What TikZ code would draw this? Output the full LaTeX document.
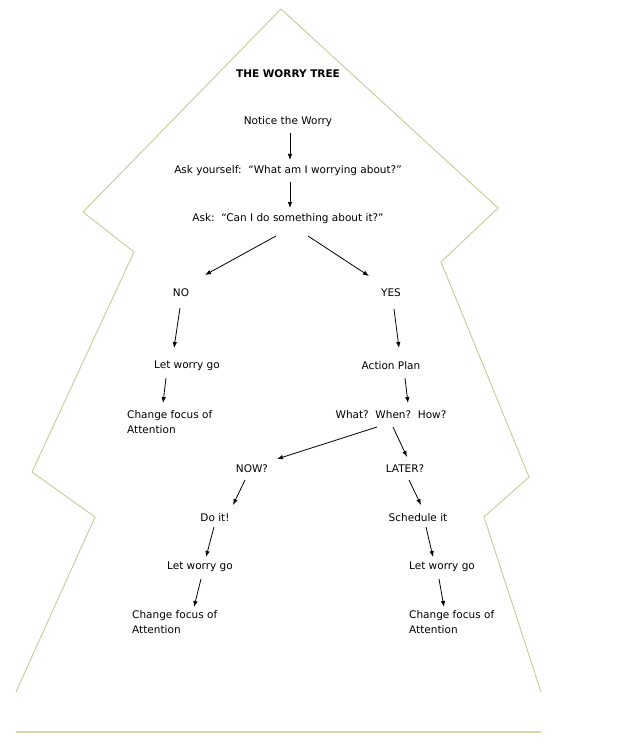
\documentclass[tikz,border=0pt]{standalone}
\usepackage{fontspec}
\setmainfont{DejaVu Sans}
\usetikzlibrary{calc,arrows.meta}

\definecolor{treeline}{RGB}{190,208,150}
\definecolor{footline}{RGB}{204,222,176}

\tikzset{
  txt/.style={inner sep=0pt,font=\fontsize{10.5}{15}\selectfont},
  lefttxt/.style={txt,anchor=west,align=left},
  arr/.style={line width=0.8pt,-{Latex[length=6pt,width=4.5pt]}}
}

\begin{document}
\begin{tikzpicture}[x=1pt,y=-1pt]
  \path[use as bounding box,fill=white] (0,0) rectangle (617,754);

  % tree outline
  \draw[treeline,line width=0.9pt] (16,692) -- (95,517) -- (32,472) -- (134,252) -- (83,212)
    -- (281,9) -- (498,208) -- (441,262) -- (529,477) -- (484,517) -- (541,692);
  \draw[footline,line width=2pt] (16,732) -- (541,732);

  \node[txt,font=\fontsize{10.5}{15}\selectfont\bfseries] (title) at (288,74) {THE WORRY TREE};

  \node[txt] (notice)  at (288,122) {Notice the Worry};
  \node[txt] (askself) at (288,171) {Ask yourself:\ \ “What am I worrying about?”};
  \node[txt] (ask)     at (288,219) {Ask:\ \ “Can I do something about it?”};

  \node[txt] (no)  at (181,293) {NO};
  \node[txt] (yes) at (391,293) {YES};

  \node[txt] (letgoA) at (187,366) {Let worry go};
  \node[lefttxt] (changeA) at (127,422.5) {Change focus of\\Attention};

  \node[txt] (plan) at (391,366) {Action Plan};
  \node[txt] (what) at (391,415) {What?\ \ When?\ \ How?};

  \node[txt] (now)   at (252,469) {NOW?};
  \node[txt] (later) at (405,469) {LATER?};

  \node[txt] (doit)    at (215,518) {Do it!};
  \node[txt] (letgoB)  at (200,567) {Let worry go};
  \node[lefttxt] (changeB) at (132,622.5) {Change focus of\\Attention};

  \node[txt] (sched)   at (418,518) {Schedule it};
  \node[txt] (letgoC)  at (442,567) {Let worry go};
  \node[lefttxt] (changeC) at (409,622.5) {Change focus of\\Attention};

  \foreach \a/\ao/\b/\bo in {
      notice/{2,11}/askself/{2,-11},
      askself/{2,11}/ask/{2,-11},
      ask/{-12,17}/no/{24,-18},
      ask/{20,17}/yes/{-22,-17},
      no/{-1,15}/letgoA/{-13,-18},
      letgoA/{-21,12}/changeA.west/{36,-19.5},
      yes/{3,16}/plan/{8,-18},
      plan/{14,12}/what/{17,-12},
      what/{-14,12}/now/{25,-10},
      what/{2,12}/later/{2,-12},
      now/{-7,11}/doit/{18,-13},
      doit/{-1,9}/letgoB/{6,-10},
      letgoB/{1,12}/changeB.west/{62,-15.5},
      later/{4,11}/sched/{3,-13},
      sched/{8,9}/letgoC/{-9,-10},
      letgoC/{-3,12}/changeC.west/{35,-15.5}} {
    \draw[arr] ($(\a)+(\ao)$) -- ($(\b)+(\bo)$);
  }

\end{tikzpicture}
\end{document}
